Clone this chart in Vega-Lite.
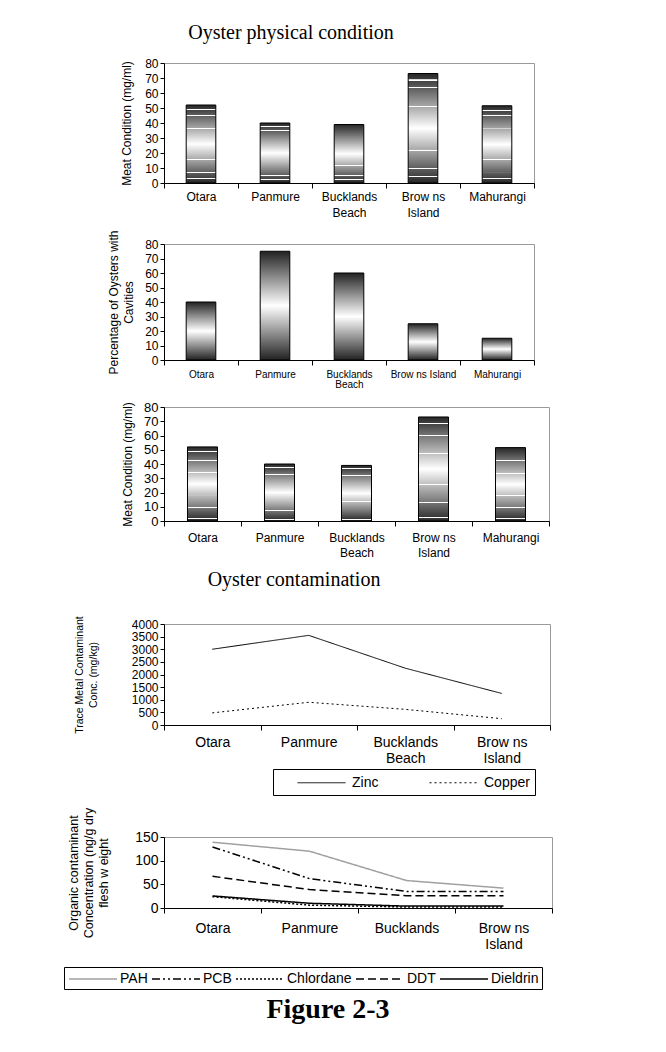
{
  "$schema": "https://vega.github.io/schema/vega-lite/v6.json",
  "padding": {"left": 63, "top": 22, "right": 5, "bottom": 5},
  "background": "white",
  "title": {"text": "Figure 2-3", "orient": "bottom", "anchor": "middle", "font": "Liberation Serif", "fontSize": 28, "fontWeight": "bold", "color": "black", "offset": 6, "dx": 20},
  "spacing": 10,
  "resolve": {
    "scale": {"color": "independent", "strokeDash": "independent"},
    "legend": {"color": "independent", "strokeDash": "independent"}
  },
  "datasets": {
    "meat": [
      {"site": "Otara", "value": 52},
      {"site": "Panmure", "value": 40},
      {"site": "Bucklands|Beach", "value": 39},
      {"site": "Brow ns|Island", "value": 73},
      {"site": "Mahurangi", "value": 51.5}
    ],
    "cavity": [
      {"site": "Otara", "value": 40},
      {"site": "Panmure", "value": 75},
      {"site": "Bucklands|Beach", "value": 60},
      {"site": "Brow ns Island", "value": 25},
      {"site": "Mahurangi", "value": 15}
    ],
    "metals": [
      {"site": "Otara", "metal": "Zinc", "conc": 3000},
      {"site": "Panmure", "metal": "Zinc", "conc": 3550},
      {"site": "Bucklands|Beach", "metal": "Zinc", "conc": 2250},
      {"site": "Brow ns|Island", "metal": "Zinc", "conc": 1250},
      {"site": "Otara", "metal": "Copper", "conc": 480},
      {"site": "Panmure", "metal": "Copper", "conc": 900},
      {"site": "Bucklands|Beach", "metal": "Copper", "conc": 620},
      {"site": "Brow ns|Island", "metal": "Copper", "conc": 250}
    ],
    "organics": [
      {"site": "Otara", "compound": "PAH", "conc": 139},
      {"site": "Panmure", "compound": "PAH", "conc": 120},
      {"site": "Bucklands", "compound": "PAH", "conc": 58},
      {"site": "Brow ns|Island", "compound": "PAH", "conc": 42},
      {"site": "Otara", "compound": "PCB", "conc": 129},
      {"site": "Panmure", "compound": "PCB", "conc": 62},
      {"site": "Bucklands", "compound": "PCB", "conc": 35},
      {"site": "Brow ns|Island", "compound": "PCB", "conc": 35},
      {"site": "Otara", "compound": "Chlordane", "conc": 24},
      {"site": "Panmure", "compound": "Chlordane", "conc": 6},
      {"site": "Bucklands", "compound": "Chlordane", "conc": 2},
      {"site": "Brow ns|Island", "compound": "Chlordane", "conc": 2},
      {"site": "Otara", "compound": "DDT", "conc": 67},
      {"site": "Panmure", "compound": "DDT", "conc": 39},
      {"site": "Bucklands", "compound": "DDT", "conc": 26},
      {"site": "Brow ns|Island", "compound": "DDT", "conc": 26},
      {"site": "Otara", "compound": "Dieldrin", "conc": 25.5},
      {"site": "Panmure", "compound": "Dieldrin", "conc": 10},
      {"site": "Bucklands", "compound": "Dieldrin", "conc": 4},
      {"site": "Brow ns|Island", "compound": "Dieldrin", "conc": 4}
    ]
  },
  "vconcat": [
    {
      "width": 370,
      "height": 120,
      "title": {"text": "Oyster physical condition", "font": "Liberation Serif", "fontSize": 20, "fontWeight": "normal", "color": "black", "anchor": "middle", "frame": "group", "dx": -58, "offset": 14},
      "data": {"name": "meat"},
      "mark": {
        "type": "bar", "width": {"band": 0.4}, "stroke": "black", "strokeWidth": 1,
        "fill": {"gradient": "linear", "x1": 0, "y1": 0, "x2": 0, "y2": 1, "stops": [
          {"offset": 0, "color": "#262626"},
          {"offset": 0.054, "color": "#3e3e3e"}, {"offset": 0.055, "color": "#ffffff"}, {"offset": 0.065, "color": "#ffffff"}, {"offset": 0.066, "color": "#424242"},
          {"offset": 0.124, "color": "#5b5b5b"}, {"offset": 0.125, "color": "#ffffff"}, {"offset": 0.135, "color": "#ffffff"}, {"offset": 0.136, "color": "#5f5f5f"},
          {"offset": 0.294, "color": "#a5a5a5"}, {"offset": 0.295, "color": "#ffffff"}, {"offset": 0.305, "color": "#ffffff"}, {"offset": 0.306, "color": "#aaaaaa"},
          {"offset": 0.5, "color": "#ffffff"},
          {"offset": 0.694, "color": "#aaaaaa"}, {"offset": 0.695, "color": "#ffffff"}, {"offset": 0.705, "color": "#ffffff"}, {"offset": 0.706, "color": "#a5a5a5"},
          {"offset": 0.864, "color": "#5f5f5f"}, {"offset": 0.865, "color": "#ffffff"}, {"offset": 0.875, "color": "#ffffff"}, {"offset": 0.876, "color": "#5b5b5b"},
          {"offset": 0.934, "color": "#424242"}, {"offset": 0.935, "color": "#ffffff"}, {"offset": 0.945, "color": "#ffffff"}, {"offset": 0.946, "color": "#3e3e3e"},
          {"offset": 1, "color": "#262626"}
        ]}
      },
      "encoding": {
        "x": {"field": "site", "type": "nominal", "sort": null, "scale": {"paddingInner": 0, "paddingOuter": 0},
          "axis": {"title": null, "labelAngle": 0, "tickBand": "extent", "tickSize": 5, "labelFontSize": 12, "labelPadding": 3, "labelLineHeight": 16, "labelLimit": 300, "labelExpr": "split(datum.label, '|')"}},
        "y": {"field": "value", "type": "quantitative", "scale": {"domain": [0, 80], "nice": false},
          "axis": {"values": [0, 10, 20, 30, 40, 50, 60, 70, 80], "labelOverlap": false, "title": "Meat Condition (mg/ml)", "titleFontSize": 12, "labelFontSize": 12, "tickSize": 4, "labelPadding": 2, "titlePadding": 11}}
      }
    },
    {
      "width": 370,
      "height": 116,
      "data": {"name": "cavity"},
      "mark": {
        "type": "bar", "width": {"band": 0.4}, "stroke": "black", "strokeWidth": 1,
        "fill": {"gradient": "linear", "x1": 0, "y1": 0, "x2": 0, "y2": 1, "stops": [
          {"offset": 0, "color": "#222222"},
          {"offset": 0.5, "color": "#ffffff"},
          {"offset": 1, "color": "#222222"}
        ]}
      },
      "encoding": {
        "x": {"field": "site", "type": "nominal", "sort": null, "scale": {"paddingInner": 0, "paddingOuter": 0},
          "axis": {"title": null, "labelAngle": 0, "tickBand": "extent", "tickSize": 5, "labelFontSize": 10, "labelPadding": 4, "labelLineHeight": 10, "labelLimit": 300, "labelExpr": "split(datum.label, '|')"}},
        "y": {"field": "value", "type": "quantitative", "scale": {"domain": [0, 80], "nice": false},
          "axis": {"values": [0, 10, 20, 30, 40, 50, 60, 70, 80], "labelOverlap": false, "title": ["Percentage of Oysters with", "Cavities"], "titleFontSize": 12, "titleLineHeight": 15, "labelFontSize": 12, "tickSize": 4, "labelPadding": 2, "titlePadding": 9}}
      }
    },
    {
      "width": 385,
      "height": 114,
      "data": {"name": "meat"},
      "mark": {
        "type": "bar", "width": {"band": 0.39}, "stroke": "black", "strokeWidth": 1,
        "fill": {"gradient": "linear", "x1": 0, "y1": 0, "x2": 0, "y2": 1, "stops": [
          {"offset": 0, "color": "#262626"},
          {"offset": 0.054, "color": "#3e3e3e"}, {"offset": 0.055, "color": "#ffffff"}, {"offset": 0.065, "color": "#ffffff"}, {"offset": 0.066, "color": "#424242"},
          {"offset": 0.174, "color": "#747474"}, {"offset": 0.175, "color": "#ffffff"}, {"offset": 0.185, "color": "#ffffff"}, {"offset": 0.186, "color": "#797979"},
          {"offset": 0.344, "color": "#bcbcbc"}, {"offset": 0.345, "color": "#ffffff"}, {"offset": 0.355, "color": "#ffffff"}, {"offset": 0.356, "color": "#c1c1c1"},
          {"offset": 0.5, "color": "#ffffff"},
          {"offset": 0.644, "color": "#c1c1c1"}, {"offset": 0.645, "color": "#ffffff"}, {"offset": 0.655, "color": "#ffffff"}, {"offset": 0.656, "color": "#bcbcbc"},
          {"offset": 0.814, "color": "#797979"}, {"offset": 0.815, "color": "#ffffff"}, {"offset": 0.825, "color": "#ffffff"}, {"offset": 0.826, "color": "#747474"},
          {"offset": 0.964, "color": "#353535"}, {"offset": 0.965, "color": "#ffffff"}, {"offset": 0.975, "color": "#ffffff"}, {"offset": 0.976, "color": "#303030"},
          {"offset": 1, "color": "#262626"}
        ]}
      },
      "encoding": {
        "x": {"field": "site", "type": "nominal", "sort": null, "scale": {"paddingInner": 0, "paddingOuter": 0},
          "axis": {"title": null, "labelAngle": 0, "tickBand": "extent", "tickSize": 5, "labelFontSize": 12, "labelPadding": 6, "labelLineHeight": 15, "labelLimit": 300, "labelExpr": "split(datum.label, '|')"}},
        "y": {"field": "value", "type": "quantitative", "scale": {"domain": [0, 80], "nice": false},
          "axis": {"values": [0, 10, 20, 30, 40, 50, 60, 70, 80], "labelOverlap": false, "title": "Meat Condition (mg/ml)", "titleFontSize": 12, "labelFontSize": 13, "tickSize": 4, "labelPadding": 2, "titlePadding": 9}}
      }
    },
    {
      "width": 386,
      "height": 101,
      "title": {"text": "Oyster contamination", "font": "Liberation Serif", "fontSize": 20, "fontWeight": "normal", "color": "black", "anchor": "middle", "frame": "group", "dx": -63, "offset": 26},
      "data": {"name": "metals"},
      "mark": {"type": "line", "strokeWidth": 1},
      "encoding": {
        "x": {"field": "site", "type": "nominal", "sort": null, "scale": {"paddingInner": 0, "paddingOuter": 0},
          "axis": {"title": null, "labelAngle": 0, "tickBand": "extent", "tickSize": 5, "labelFontSize": 14, "labelPadding": 5, "labelLineHeight": 16, "labelLimit": 300, "labelExpr": "split(datum.label, '|')"}},
        "y": {"field": "conc", "type": "quantitative", "scale": {"domain": [0, 4000], "nice": false},
          "axis": {"values": [0, 500, 1000, 1500, 2000, 2500, 3000, 3500, 4000], "labelOverlap": false, "format": "d", "title": ["Trace Metal Contaminant", "Conc. (mg/kg)"], "titleFontSize": 10.5, "titleLineHeight": 14, "labelFontSize": 12, "tickSize": 4, "labelPadding": 2, "titlePadding": 33}},
        "color": {"field": "metal", "type": "nominal", "scale": {"domain": ["Zinc", "Copper"], "range": ["black", "black"]},
          "legend": {"orient": "none", "legendX": 109, "legendY": 145, "direction": "horizontal", "title": null, "strokeColor": "black", "fillColor": "white", "padding": 5, "symbolType": "M-1,0L5,0", "symbolSize": 256, "symbolStrokeWidth": 1, "symbolOffset": 19, "labelOffset": 38, "columnPadding": 31, "labelFontSize": 14, "labelColor": "black"}},
        "strokeDash": {"field": "metal", "type": "nominal", "scale": {"domain": ["Zinc", "Copper"], "range": [[1, 0], [2, 3]]},
          "legend": {"orient": "none", "legendX": 109, "legendY": 145, "direction": "horizontal", "title": null, "strokeColor": "black", "fillColor": "white", "padding": 5, "symbolType": "M-1,0L5,0", "symbolSize": 256, "symbolStrokeWidth": 1, "symbolOffset": 19, "labelOffset": 38, "columnPadding": 31, "labelFontSize": 14, "labelColor": "black"}}
      }
    },
    {
      "width": 388,
      "height": 71,
      "data": {"name": "organics"},
      "mark": {"type": "line", "strokeWidth": 1.5},
      "encoding": {
        "x": {"field": "site", "type": "nominal", "sort": null, "scale": {"paddingInner": 0, "paddingOuter": 0},
          "axis": {"title": null, "labelAngle": 0, "tickBand": "extent", "tickSize": 5, "labelFontSize": 14, "labelPadding": 8, "labelLineHeight": 16, "labelLimit": 300, "labelExpr": "split(datum.label, '|')"}},
        "y": {"field": "conc", "type": "quantitative", "scale": {"domain": [0, 150], "nice": false},
          "axis": {"values": [0, 50, 100, 150], "labelOverlap": false, "title": ["Organic contaminant", "Concentration (ng/g dry", "flesh w eight"], "titleFontSize": 12.5, "titleLineHeight": 15, "labelFontSize": 14, "tickSize": 4, "labelPadding": 2, "titlePadding": 24}},
        "color": {"field": "compound", "type": "nominal", "scale": {"domain": ["PAH", "PCB", "Chlordane", "DDT", "Dieldrin"], "range": ["#a0a0a0", "black", "black", "black", "black"]},
          "legend": {"orient": "none", "legendX": -100, "legendY": 130, "direction": "horizontal", "title": null, "strokeColor": "black", "fillColor": "white", "padding": 3, "symbolType": "M-1,0L5,0", "symbolSize": 256, "symbolStrokeWidth": 1.5, "symbolOffset": 1, "labelOffset": 34, "columnPadding": 1, "labelFontSize": 14, "labelColor": "black"}},
        "strokeDash": {"field": "compound", "type": "nominal", "scale": {"domain": ["PAH", "PCB", "Chlordane", "DDT", "Dieldrin"], "range": [[1, 0], [8, 3, 2, 3, 2, 3], [2, 2], [8, 4], [1, 0]]},
          "legend": {"orient": "none", "legendX": -100, "legendY": 130, "direction": "horizontal", "title": null, "strokeColor": "black", "fillColor": "white", "padding": 3, "symbolType": "M-1,0L5,0", "symbolSize": 256, "symbolStrokeWidth": 1.5, "symbolOffset": 1, "labelOffset": 34, "columnPadding": 1, "labelFontSize": 14, "labelColor": "black"}}
      }
    }
  ],
  "config": {
    "font": "Liberation Sans",
    "view": {"stroke": "#9a9a9a"},
    "axis": {"labelFont": "Liberation Sans", "titleFont": "Liberation Sans", "labelColor": "black", "titleColor": "black", "domainColor": "black", "tickColor": "black", "grid": false, "titleFontWeight": "normal"},
    "legend": {"labelFont": "Liberation Sans"}
  }
}
